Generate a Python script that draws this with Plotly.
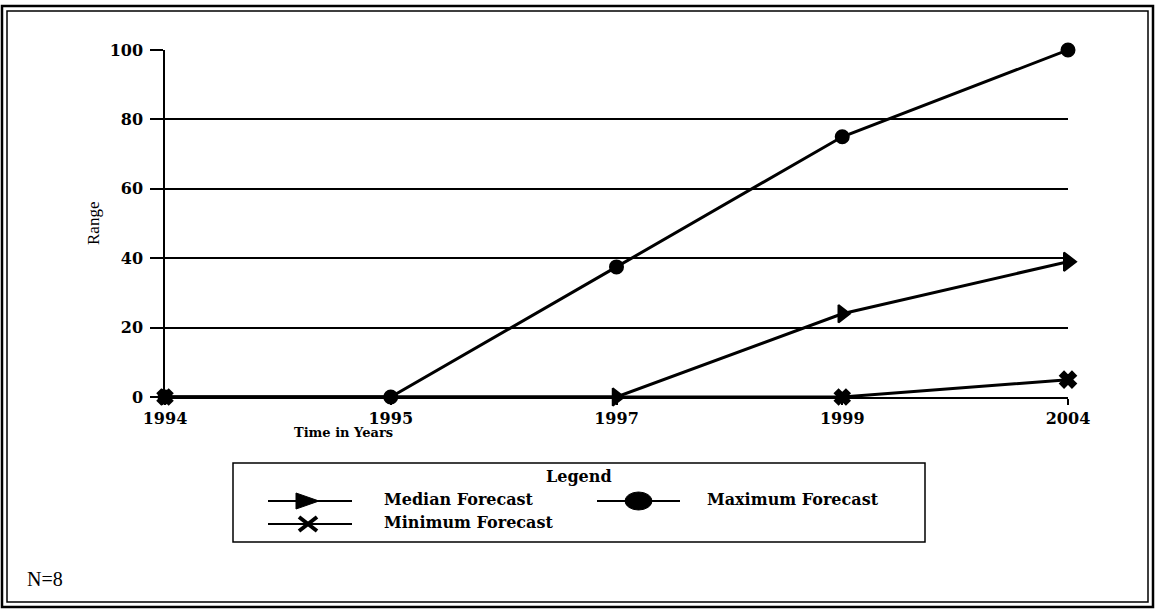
import plotly.graph_objects as go

# Forecast data
years = ["1994", "1995", "1997", "1999", "2004"]
median_forecast = [0, 0, 0, 24, 39]
maximum_forecast = [0, 0, 37.5, 75, 100]
minimum_forecast = [0, 0, 0, 0, 5]
y_ticks = [0, 20, 40, 60, 80, 100]

W, H = 1156, 611
L, R, T, B = 165, 1068, 50, 397  # plot area in pixels


def px(x):
    return (x - L) / (R - L)


def py(y):
    return (B - y) / (B - T)


SERIF_BOLD = "DejaVu Serif"
SERIF = "Liberation Serif"

fig = go.Figure()

line_style = dict(color="black", width=3)
marker_edge = dict(color="#000000", width=2)
# Markers hidden where a later series sits on the same point
fig.add_trace(go.Scatter(x=years, y=minimum_forecast, mode="lines+markers",
                         line=line_style, cliponaxis=False,
                         marker=dict(symbol="x", size=[13, 0, 0, 13, 14], color="#000000",
                                     opacity=1, line=marker_edge)))
fig.add_trace(go.Scatter(x=years, y=median_forecast, mode="lines+markers",
                         line=line_style, cliponaxis=False,
                         marker=dict(symbol="triangle-right", size=[13, 0, 15, 15, 16],
                                     color="#000000", opacity=1, line=marker_edge)))
fig.add_trace(go.Scatter(x=years, y=maximum_forecast, mode="lines+markers",
                         line=line_style, cliponaxis=False,
                         marker=dict(symbol="circle", size=13, color="#000000",
                                     opacity=1, line=marker_edge)))

shapes = []
# Double frame around the figure
shapes.append(dict(type="rect", xref="paper", yref="paper",
                   x0=px(2), x1=px(1153), y0=py(6), y1=py(607),
                   line=dict(color="black", width=2.5)))
shapes.append(dict(type="rect", xref="paper", yref="paper",
                   x0=px(7), x1=px(1148), y0=py(11), y1=py(602),
                   line=dict(color="black", width=1.5)))
# Legend box
shapes.append(dict(type="rect", xref="paper", yref="paper",
                   x0=px(233), x1=px(925), y0=py(463), y1=py(542),
                   line=dict(color="black", width=1.5)))

ROW1, ROW2 = 501, 524
# Legend glyph lines
for x0, x1, y in [(268, 352, ROW1), (597, 680, ROW1), (268, 352, ROW2)]:
    shapes.append(dict(type="line", xref="paper", yref="paper",
                       x0=px(x0), x1=px(x1), y0=py(y), y1=py(y),
                       line=dict(color="black", width=2)))
# Median glyph: right-pointing triangle
shapes.append(dict(type="path", xref="paper", yref="paper",
                   path=(f"M {px(296)},{py(ROW1 - 8)} L {px(319)},{py(ROW1)} "
                         f"L {px(296)},{py(ROW1 + 8)} Z"),
                   fillcolor="black", line=dict(color="black", width=1)))
# Maximum glyph: filled ellipse
shapes.append(dict(type="circle", xref="paper", yref="paper",
                   x0=px(625), x1=px(652), y0=py(ROW1 - 9), y1=py(ROW1 + 9),
                   fillcolor="black", line=dict(color="black", width=1)))
# Minimum glyph: cross
for (xa, ya, xb, yb) in [(299, ROW2 - 7, 317, ROW2 + 7), (299, ROW2 + 7, 317, ROW2 - 7)]:
    shapes.append(dict(type="line", xref="paper", yref="paper",
                       x0=px(xa), y0=py(ya), x1=px(xb), y1=py(yb),
                       line=dict(color="black", width=4)))

annotations = []


def text(x, y, s, size, family, bold=False, xanchor="left"):
    annotations.append(dict(
        xref="paper", yref="paper", x=px(x), y=py(y), text=s,
        showarrow=False, xanchor=xanchor, yanchor="middle",
        font=dict(family=family, size=size, color="black",
                  weight="bold" if bold else "normal")))


text(579, 476, "Legend", 16, SERIF_BOLD, bold=True, xanchor="center")
text(382, 499, "Median Forecast", 16, SERIF_BOLD, bold=True)
text(705, 499, "Maximum Forecast", 16, SERIF_BOLD, bold=True)
text(382, 522, "Minimum Forecast", 16, SERIF_BOLD, bold=True)
text(343, 432, "Time in Years", 13, SERIF_BOLD, bold=True, xanchor="center")
text(25, 579, "N=8", 20, SERIF)
annotations.append(dict(xref="paper", yref="paper", x=px(93), y=py(224),
                        text="Range", textangle=-90, showarrow=False,
                        xanchor="center", yanchor="middle",
                        font=dict(family=SERIF, size=17, color="black")))

tick_font = dict(family=SERIF_BOLD, size=16, color="black", weight="bold")

fig.update_layout(
    width=W, height=H,
    margin=dict(l=L, r=W - R, t=T, b=H - B, pad=0),
    paper_bgcolor="white", plot_bgcolor="white",
    showlegend=False,
    shapes=shapes,
    annotations=annotations,
    xaxis=dict(type="category", categoryorder="array", categoryarray=years,
               range=[0, len(years) - 1], showgrid=False, zeroline=False,
               showline=True, linecolor="black", linewidth=1.5,
               ticks="outside", ticklen=6, tickwidth=1.5, tickcolor="black",
               tickfont=tick_font),
    yaxis=dict(range=[0, 100], tickvals=y_ticks, showgrid=True,
               gridcolor="black", gridwidth=2, zeroline=False,
               showline=True, linecolor="black", linewidth=1.5,
               ticks="outside", ticklen=13, tickwidth=2, tickcolor="black",
               tickfont=tick_font, ticklabelstandoff=4),
)

fig.write_html("out.html")
